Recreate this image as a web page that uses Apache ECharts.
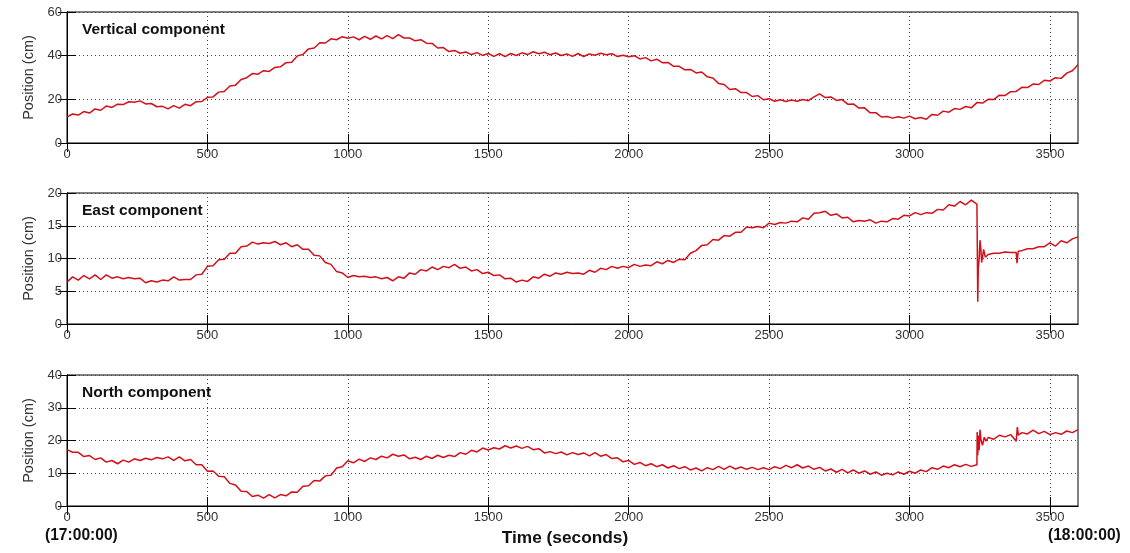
<!DOCTYPE html>
<html><head><meta charset="utf-8">
<script src="https://cdn.jsdelivr.net/npm/echarts@6/dist/echarts.min.js"></script>
<style>html,body{margin:0;padding:0;background:#fff}#c{width:1130px;height:553px}</style>
</head><body><div id="c"></div>
<script>
// sample times: every 20 s from 0 to 3600
const STEP = 20;
const TIME = [];
for (let t = 0; t <= 3600; t += STEP) TIME.push(t);

const xTicks = [0, 500, 1000, 1500, 2000, 2500, 3000, 3500];
const panelTitles = ['Vertical component', 'East component', 'North component'];
const yRanges = [[0, 60, 20], [0, 20, 5], [0, 40, 10]];

const vertical = [
12.0,13.3,12.8,14.4,13.7,15.6,15.0,16.9,16.3,17.8,
17.6,18.9,18.7,19.3,17.9,18.1,16.6,16.8,15.6,17.1,
16.0,17.7,17.1,18.9,19.0,20.9,21.1,23.3,23.6,26.1,
26.5,29.1,29.9,31.8,31.5,33.1,32.8,34.6,34.9,36.8,
37.0,39.9,40.5,43.1,43.5,45.9,45.8,47.7,47.3,48.7,
48.0,48.6,47.3,48.8,47.5,49.0,47.7,49.2,47.8,49.6,
48.1,48.1,46.8,47.3,45.7,45.6,43.5,43.7,41.9,42.4,
41.1,41.7,40.5,41.4,40.1,41.0,39.7,40.9,39.6,41.0,
40.1,41.3,40.5,41.8,40.9,41.6,40.4,41.2,40.1,40.8,
39.7,41.0,39.6,40.8,40.2,41.1,40.4,40.9,39.6,40.2,
39.5,40.0,38.5,39.1,37.6,38.4,36.8,36.9,35.1,35.1,
33.5,33.7,32.1,32.5,30.3,29.8,27.3,26.8,24.5,24.9,
23.1,23.1,21.3,21.7,19.8,20.3,19.1,19.8,19.0,19.7,
19.1,19.9,19.4,21.1,22.5,20.8,21.1,19.5,19.9,17.8,
17.9,16.0,16.1,13.8,13.9,11.9,12.1,11.4,12.0,11.4,
12.3,11.1,11.7,10.9,13.1,12.7,14.6,14.1,15.8,15.4,
16.7,16.1,18.5,18.3,20.0,19.9,21.9,21.7,23.5,23.6,
25.5,25.4,27.0,26.8,28.7,28.4,29.9,29.6,32.0,33.1,
35.8];

const east = [
6.4,7.2,6.7,7.4,6.9,7.5,6.8,7.5,7.0,7.2,
6.9,7.1,6.9,7.0,6.3,6.6,6.4,6.7,6.6,7.2,
6.7,6.8,6.8,7.5,7.6,8.8,8.9,9.8,9.9,10.8,
10.8,11.8,11.9,12.5,12.2,12.4,12.3,12.6,12.1,12.4,
11.8,12.1,11.4,11.4,10.5,10.4,9.4,9.1,8.0,7.8,
7.1,7.4,7.2,7.3,7.1,7.2,6.9,7.1,6.6,7.2,
7.0,7.8,7.6,8.3,8.1,8.7,8.3,8.8,8.6,9.1,
8.5,8.7,8.1,8.3,7.7,7.9,7.4,7.5,6.9,7.0,
6.4,6.7,6.5,7.2,7.0,7.6,7.3,7.8,7.6,7.9,
7.7,7.8,7.6,8.2,7.9,8.5,8.3,8.8,8.5,8.8,
8.6,9.1,8.8,9.0,8.9,9.5,9.2,9.7,9.4,9.9,
9.8,10.8,11.2,12.0,12.1,12.9,12.8,13.5,13.4,14.0,
14.0,14.8,14.7,14.9,14.7,15.4,15.2,15.5,15.4,15.7,
15.6,16.2,16.0,16.9,17.0,17.2,16.6,16.8,16.2,16.3,
15.6,15.8,15.7,15.9,15.4,15.7,15.6,16.1,16.0,16.6,
16.5,17.0,16.7,17.0,16.9,17.5,17.4,18.2,18.0,18.7,
18.2,18.9,18.3,10.2,10.6,10.8,10.8,11.0,10.9,10.9,
11.2,11.5,11.5,11.8,11.8,12.4,11.9,12.7,12.4,13.0,
13.3];
// extra readings around the step at ~3240 s
const eastDetailT = [3241,3243,3245,3248,3251,3254,3257,3264,3270,3383,3387];
const eastDetailV = [14.0,3.4,8.5,10.0,12.8,11.5,9.4,11.4,10.2,9.3,11.1];

const north = [
17.2,16.4,16.4,15.1,15.4,14.2,14.7,13.4,13.9,12.9,
14.0,13.4,14.4,13.9,14.6,14.1,14.8,14.4,15.0,13.9,
15.0,13.8,14.2,12.6,12.6,10.6,10.7,9.1,8.9,6.9,
6.4,4.5,4.4,2.9,3.3,2.4,3.5,2.5,3.5,3.1,
4.3,4.2,6.0,6.2,7.8,7.6,9.2,9.4,11.6,12.0,
13.8,13.2,14.3,13.6,14.7,14.2,15.2,14.7,15.8,15.2,
15.6,14.4,14.9,14.2,15.2,14.5,15.5,14.8,15.5,15.1,
16.3,15.8,17.0,16.5,17.7,17.1,17.8,17.4,18.4,17.7,
18.3,17.6,18.2,17.2,17.5,16.2,16.6,16.0,16.5,15.6,
16.3,15.7,16.2,15.3,16.3,15.2,15.7,14.5,14.7,13.5,
13.9,12.7,13.3,12.3,12.9,12.0,12.6,11.6,12.3,11.4,
12.0,11.0,11.6,10.7,11.7,11.1,12.1,11.2,12.2,11.3,
11.9,11.2,11.8,11.1,11.7,11.1,12.0,11.4,12.4,11.7,
12.6,11.6,12.2,11.2,11.8,10.7,11.3,10.3,11.2,10.1,
11.0,10.0,10.7,9.7,10.4,9.4,10.0,9.5,10.4,9.7,
10.6,10.0,11.0,10.5,11.7,11.2,12.2,11.7,12.6,12.0,
12.7,12.1,12.6,18.5,20.9,20.4,21.6,21.1,21.8,19.8,
22.4,22.0,23.2,22.1,22.8,21.8,22.4,21.9,22.9,22.4,
23.3];
const northDetailT = [3241,3243,3245,3248,3251,3255,3266,3272,3384,3388];
const northDetailV = [22.6,15.5,21.5,17.0,23.3,20.0,21.0,19.8,24.1,21.6];

function pairs(vals, dT, dV) {
  const p = TIME.map((t, i) => [t, vals[i]]);
  if (dT) dT.forEach((t, i) => p.push([t, dV[i]]));
  p.sort((a, b) => a[0] - b[0]);
  return p;
}
const seriesData = [pairs(vertical), pairs(east, eastDetailT, eastDetailV), pairs(north, northDetailT, northDetailV)];

const FONT = 'Liberation Sans, Arial, sans-serif';
const tops = [12, 193, 375];
const H = 131;
const grids = [], xAxes = [], yAxes = [], series = [], titles = [];
const dotted = {show: true, lineStyle: {color: '#444', width: 1, type: [1, 3]}};

tops.forEach((top, k) => {
  grids.push({left: 67, top: top, width: 1011, height: H, show: true, borderColor: '#000', borderWidth: 1, backgroundColor: '#fff'});
  const [ymin, ymax, yint] = yRanges[k];
  xAxes.push({gridIndex: k, type: 'value', min: 0, max: 3600, interval: 500, position: 'bottom',
    axisLine: {show: true, lineStyle: {color: '#000'}},
    axisTick: {show: true, inside: true, length: 9, customValues: xTicks, lineStyle: {color: '#000'}},
    axisLabel: {show: true, color: '#333', fontSize: 13, fontFamily: FONT, margin: 5, customValues: xTicks,
      formatter: v => String(v)},
    splitLine: dotted});
  xAxes.push({gridIndex: k, type: 'value', min: 0, max: 3600, interval: 500, position: 'top',
    axisLine: {show: true, lineStyle: {color: '#000'}},
    axisTick: {show: true, inside: true, length: 9, customValues: xTicks, lineStyle: {color: '#000'}},
    axisLabel: {show: false}, splitLine: {show: false}});
  yAxes.push({gridIndex: k, type: 'value', min: ymin, max: ymax, interval: yint, position: 'left',
    name: 'Position (cm)', nameLocation: 'middle', nameGap: 30, nameRotate: 90,
    nameTextStyle: {color: '#333', fontSize: 14.5, fontFamily: FONT},
    axisLine: {show: true, lineStyle: {color: '#000'}},
    axisTick: {show: true, inside: true, length: 9, lineStyle: {color: '#000'}},
    axisLabel: {show: true, color: '#333', fontSize: 13, fontFamily: FONT, margin: 5},
    splitLine: dotted});
  yAxes.push({gridIndex: k, type: 'value', min: ymin, max: ymax, interval: yint, position: 'right',
    axisLine: {show: true, lineStyle: {color: '#000'}},
    axisTick: {show: true, inside: true, length: 9, lineStyle: {color: '#000'}},
    axisLabel: {show: false}, splitLine: {show: false}});
  series.push({type: 'line', xAxisIndex: 2 * k, yAxisIndex: 2 * k, data: seriesData[k],
    showSymbol: false, symbol: 'none', lineStyle: {color: '#d3101a', width: 1.5}, z: 3});
  titles.push({text: panelTitles[k], left: 82, top: top + 10,
    textStyle: {fontSize: 15.5, fontWeight: 'bold', color: '#111', fontFamily: FONT}});
});

titles.push({text: 'Time (seconds)', left: 'center', top: 530,
  textStyle: {fontSize: 17.3, fontWeight: 'bold', color: '#111', fontFamily: FONT}});
titles.push({text: '(17:00:00)', left: 45, top: 528,
  textStyle: {fontSize: 15.6, fontWeight: 'bold', color: '#111', fontFamily: FONT}});
titles.push({text: '(18:00:00)', left: 1048, top: 528,
  textStyle: {fontSize: 15.6, fontWeight: 'bold', color: '#111', fontFamily: FONT}});

const chart = echarts.init(document.getElementById('c'), null, {renderer: 'canvas'});
chart.setOption({
  animation: false,
  backgroundColor: '#fff',
  title: titles.map(t => Object.assign({padding: 0}, t)),
  grid: grids, xAxis: xAxes, yAxis: yAxes, series: series
});
</script></body></html>
